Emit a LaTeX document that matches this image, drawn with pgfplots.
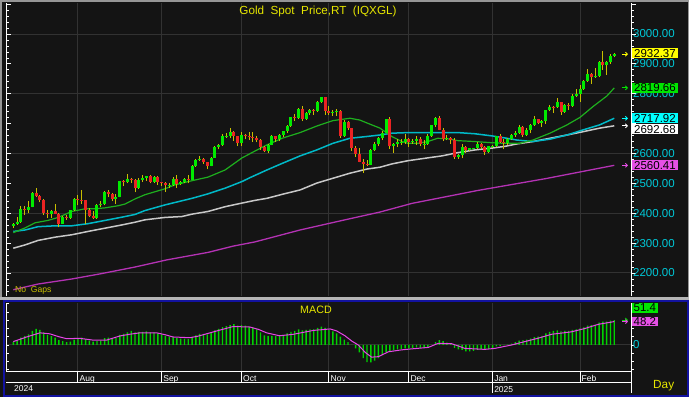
\documentclass[border=0pt]{standalone}
\usepackage{pgfplots}
\pgfplotsset{compat=1.18}
\usepackage{pgfplotstable}
\usepackage{fontspec}
\setmainfont{Liberation Sans}
\usetikzlibrary{arrows.meta}
\definecolor{bg}{RGB}{20,20,20}
\definecolor{gridc}{RGB}{50,50,50}
\definecolor{ttl}{RGB}{230,230,0}
\definecolor{boxy}{RGB}{255,255,0}
\definecolor{tickc}{RGB}{0,200,215}
\definecolor{upc}{RGB}{0,235,0}
\definecolor{dnc}{RGB}{235,35,35}
\definecolor{wickc}{RGB}{200,190,0}
\definecolor{maA}{RGB}{30,175,30}
\definecolor{maB}{RGB}{0,185,200}
\definecolor{maC}{RGB}{200,200,200}
\definecolor{maD}{RGB}{180,50,180}
\definecolor{boxg}{RGB}{0,230,0}
\definecolor{boxc}{RGB}{0,255,255}
\definecolor{boxm}{RGB}{230,80,230}
\definecolor{macdg}{RGB}{0,210,0}
\definecolor{sigc}{RGB}{230,70,230}
\definecolor{frameg}{RGB}{150,150,150}
\definecolor{frameb}{RGB}{18,18,160}
\newcommand\ftitle{\fontsize{11.7}{13}\selectfont}
\newcommand\flab{\fontsize{11.5}{12}\selectfont}
\newcommand\fdate{\fontsize{8.5}{9}\selectfont}
\newcommand\fsmall{\fontsize{8.6}{9}\selectfont}

\pgfplotstableread{
i O H L C
0 2358 2366 2352 2364
1 2364 2386 2360 2372
2 2372 2424 2369 2415
3 2415 2424 2394 2411
4 2411 2440 2401 2422
5 2422 2470 2420 2468
6 2468 2483 2455 2459
7 2459 2462 2436 2445
8 2445 2449 2395 2400
9 2400 2412 2384 2396
10 2396 2412 2385 2409
11 2409 2431 2396 2398
12 2398 2402 2353 2365
13 2365 2390 2364 2387
14 2387 2393 2378 2385
15 2385 2412 2380 2410
16 2410 2451 2406 2447
17 2447 2462 2426 2445
18 2445 2477 2432 2443
19 2443 2446 2364 2410
20 2410 2419 2386 2390
21 2390 2407 2381 2383
22 2383 2431 2380 2427
23 2427 2440 2420 2431
24 2431 2475 2426 2472
25 2472 2477 2456 2465
26 2465 2468 2441 2447
27 2447 2463 2431 2456
28 2456 2509 2453 2507
29 2507 2510 2490 2504
30 2504 2531 2500 2514
31 2514 2518 2502 2512
32 2512 2514 2470 2484
33 2484 2517 2482 2512
34 2512 2528 2505 2518
35 2518 2526 2509 2524
36 2524 2528 2500 2504
37 2504 2525 2500 2520
38 2520 2525 2495 2503
39 2503 2506 2490 2500
40 2500 2504 2472 2493
41 2493 2500 2485 2495
42 2495 2523 2490 2516
43 2516 2529 2485 2497
44 2497 2507 2493 2506
45 2506 2518 2500 2516
46 2516 2528 2500 2512
47 2512 2560 2510 2558
48 2558 2580 2555 2578
49 2578 2590 2575 2581
50 2581 2584 2565 2570
51 2570 2572 2547 2559
52 2559 2589 2557 2586
53 2586 2625 2585 2622
54 2622 2632 2614 2628
55 2628 2664 2625 2657
56 2657 2670 2652 2658
57 2658 2685 2651 2672
58 2672 2674 2643 2658
59 2658 2660 2625 2634
60 2634 2673 2624 2663
61 2663 2666 2647 2658
62 2658 2671 2645 2656
63 2656 2673 2639 2653
64 2653 2660 2637 2644
65 2644 2648 2613 2622
66 2622 2625 2604 2608
67 2608 2633 2603 2630
68 2630 2661 2627 2657
69 2657 2660 2640 2649
70 2649 2666 2643 2662
71 2662 2676 2656 2674
72 2674 2697 2670 2693
73 2693 2722 2690 2721
74 2721 2732 2710 2720
75 2720 2752 2715 2748
76 2748 2758 2708 2715
77 2715 2738 2713 2736
78 2736 2750 2729 2747
79 2747 2750 2730 2743
80 2743 2775 2738 2774
81 2774 2790 2769 2788
82 2788 2790 2730 2743
83 2743 2758 2730 2736
84 2736 2745 2727 2738
85 2738 2750 2725 2743
86 2743 2746 2652 2659
87 2659 2711 2656 2706
88 2706 2709 2680 2685
89 2685 2687 2610 2618
90 2618 2626 2589 2598
91 2598 2617 2570 2572
92 2572 2580 2536 2565
93 2565 2578 2557 2563
94 2563 2615 2560 2611
95 2611 2639 2608 2631
96 2631 2656 2625 2651
97 2651 2674 2645 2670
98 2670 2716 2668 2715
99 2715 2721 2615 2625
100 2625 2635 2602 2633
101 2633 2647 2622 2638
102 2638 2648 2630 2639
103 2639 2666 2632 2650
104 2650 2652 2623 2639
105 2639 2650 2633 2643
106 2643 2658 2630 2650
107 2650 2655 2624 2632
108 2632 2644 2614 2633
109 2633 2665 2628 2660
110 2660 2697 2655 2694
111 2694 2721 2690 2718
112 2718 2726 2677 2680
113 2680 2685 2643 2648
114 2648 2661 2644 2652
115 2652 2655 2633 2646
116 2646 2651 2583 2587
117 2587 2598 2583 2594
118 2594 2632 2584 2622
119 2622 2625 2602 2612
120 2612 2620 2608 2617
121 2617 2620 2614 2618
122 2618 2638 2615 2633
123 2633 2636 2614 2621
124 2621 2624 2596 2606
125 2606 2626 2603 2624
126 2624 2627 2620 2625
127 2625 2660 2621 2658
128 2658 2665 2635 2640
129 2640 2648 2614 2636
130 2636 2653 2628 2648
131 2648 2664 2644 2662
132 2662 2674 2656 2669
133 2669 2697 2666 2690
134 2690 2693 2656 2663
135 2663 2684 2660 2677
136 2677 2699 2667 2696
137 2696 2724 2693 2714
138 2714 2716 2699 2703
139 2703 2713 2690 2708
140 2708 2746 2700 2744
141 2744 2763 2741 2755
142 2755 2758 2735 2754
143 2754 2786 2752 2771
144 2771 2773 2730 2740
145 2740 2766 2737 2763
146 2763 2769 2745 2760
147 2760 2800 2755 2794
148 2794 2817 2790 2798
149 2798 2830 2772 2815
150 2815 2845 2812 2842
151 2842 2882 2840 2867
152 2867 2870 2834 2856
153 2856 2886 2853 2861
154 2861 2911 2855 2907
155 2907 2942 2880 2897
156 2897 2910 2864 2905
157 2905 2932 2900 2928
158 2928 2936 2922 2932.37
}\candles

\pgfplotstableread{
i m
0 6
1 9
2 15
3 18
4 22
5 29
6 33
7 31
8 26
9 21
10 18
11 15
12 10
13 8
14 6
15 7
16 11
17 14
18 15
19 12
20 9
21 7
22 8
23 9
24 14
25 15
26 13
27 14
28 21
29 23
30 26
31 29
32 26
33 27
34 27
35 28
36 26
37 26
38 24
39 22
40 19
41 17
42 16
43 14
44 13
45 13
46 12
47 16
48 20
49 23
50 23
51 22
52 25
53 30
54 33
55 37
56 39
57 41
58 43
59 40
60 41
61 40
62 38
63 35
64 32
65 26
66 20
67 18
68 19
69 18
70 20
71 21
72 24
73 27
74 29
75 32
76 30
77 31
78 32
79 32
80 35
81 38
82 35
83 31
84 28
85 24
86 17
87 11
88 6
89 0
90 -7
91 -15
92 -27
93 -35
94 -36
95 -32
96 -27
97 -21
98 -15
99 -14
100 -11
101 -9
102 -8
103 -7
104 -7
105 -6
106 -5
107 -6
108 -6
109 -4
110 0
111 6
112 10
113 8
114 5
115 2
116 -6
117 -9
118 -10
119 -13
120 -13
121 -12
122 -10
123 -9
124 -9
125 -8
126 -7
127 -3
128 -2
129 -1
130 1
131 3
132 6
133 9
134 10
135 11
136 13
137 16
138 17
139 19
140 24
141 27
142 29
143 30
144 28
145 29
146 29
147 31
148 32
149 34
150 36
151 40
152 41
153 42
154 46
155 48
156 48
157 50
158 51.4
}\macd

\begin{document}
\begin{tikzpicture}[x=1pt,y=1pt]
\useasboundingbox (0,0) rectangle (689,397);
\fill[bg] (0,0) rectangle (689,397);
% frames
\fill[frameg] (0,395) rectangle (689,397);
\fill[frameg] (0,98) rectangle (1.5,397);
\fill[frameg] (687.5,98) rectangle (689,397);
\fill[frameg!70!white] (0,97.5) rectangle (689,100.5);
\draw[frameb, line width=2pt] (3.5,1.5) rectangle (687.5,96);

% ================= MAIN PRICE PANEL =================
\begin{axis}[at={(6pt,101pt)}, anchor=south west, scale only axis,
  width=625pt, height=293pt,
  xmin=-1.92, xmax=162.4, ymin=2123, ymax=3103.8,
  hide axis, clip=false]
  % grid
  \pgfplotsinvokeforeach{2200,2400,2600,2800,3000}{
    \draw[gridc, line width=1pt] (axis cs:-1.92,#1) -- (axis cs:162.4,#1);}
  \pgfplotsinvokeforeach{17,39,60,83,104,126,149}{
    \draw[gridc, line width=1pt] (axis cs:#1,2123) -- (axis cs:#1,3103.8);}
  % moving averages
  \addplot[maD, line width=1.3pt] coordinates {(0,2144) (6.5,2163) (15.4,2180) (22.8,2197) (32,2220) (40.4,2244) (51.2,2269) (57.8,2290) (63.5,2304) (75.4,2344) (87.2,2378) (96.4,2404) (104.8,2433) (122,2476) (140,2516) (158,2560.41)};
  \addplot[maC, line width=1.5pt] coordinates {(0,2283) (3.1,2294) (6.5,2309) (11,2320) (15.4,2328) (19.6,2339) (24.1,2350) (28.6,2361) (32,2370) (34.6,2378) (39.9,2386) (44.3,2389) (47,2397) (51.2,2406) (55.7,2422) (60.1,2434) (63.5,2443) (66.7,2450) (70.9,2464) (75.4,2478) (79.8,2501) (84,2517) (88.5,2534) (93,2548) (96.4,2554) (99.5,2565) (103.8,2576) (108.2,2584) (112.7,2592) (116.9,2603) (121.4,2612) (125.8,2618) (129.3,2624) (132.4,2632) (136.6,2640) (141.1,2651) (145.6,2662) (149.8,2673) (154.2,2685) (158,2692.68)};
  \addplot[maB, line width=1.5pt] coordinates {(0,2339) (3.1,2344) (6.5,2355) (11,2358) (15.4,2358) (19.6,2365) (24.1,2376) (28.6,2387) (32,2396) (34.6,2409) (39.9,2428) (47,2450) (51.2,2465) (55.7,2484) (60.1,2506) (62.2,2519) (66.7,2545) (70.9,2568) (75.4,2592) (79.8,2612) (84,2634) (88.5,2651) (93,2657) (96.4,2662) (99.5,2668) (103.8,2670) (108.2,2670) (112.7,2670) (116.9,2670) (121.4,2666) (125.8,2659) (129.3,2652) (132.4,2645) (136.6,2640) (141.1,2648) (145.6,2662) (149.8,2679) (154.2,2696) (158,2717.92)};
  \addplot[maA, line width=1.2pt] coordinates {(0,2335) (3.1,2351) (5.7,2368) (9.1,2376) (11.8,2386) (15.4,2406) (18.9,2415) (21.5,2415) (24.1,2418) (27.5,2425) (29.4,2431) (32,2448) (34.6,2462) (39.9,2482) (42.5,2495) (47,2509) (51.2,2521) (55.7,2545) (60.1,2585) (63.5,2608) (66.7,2629) (70.9,2652) (75.4,2670) (79.8,2692) (84,2710) (88.5,2718) (91.1,2712) (93.8,2698) (96.4,2685) (99.5,2657) (102.2,2640) (103.8,2634) (106.4,2634) (109,2640) (111.6,2651) (114.3,2649) (116.9,2643) (121.4,2640) (125.8,2636) (129.3,2634) (133.2,2634) (136.6,2645) (141.1,2668) (145.6,2696) (149,2721) (152.4,2757) (156.1,2793) (158,2819.66)};
  % candles: wicks
  \addplot[draw=none, mark=none, forget plot,
    error bars/.cd, y dir=plus, y explicit, error mark=none,
    error bar style={line width=1pt, wickc}]
    table[x=i, y=L, y error plus expr=\thisrow{H}-\thisrow{L}] {\candles};
  % up bodies
  \addplot[draw=none, mark=none, forget plot,
    restrict expr to domain={\thisrow{C}-\thisrow{O}}{0.0001:1000},
    error bars/.cd, y dir=plus, y explicit, error mark=none,
    error bar style={line width=3pt, upc}]
    table[x=i, y=O, y error plus expr=\thisrow{C}-\thisrow{O}] {\candles};
  % down bodies
  \addplot[draw=none, mark=none, forget plot,
    restrict expr to domain={\thisrow{O}-\thisrow{C}}{0.0001:1000},
    error bars/.cd, y dir=plus, y explicit, error mark=none,
    error bar style={line width=3pt, dnc}]
    table[x=i, y=C, y error plus expr=\thisrow{O}-\thisrow{C}] {\candles};
  % axis lines and ticks
  \draw[white, line width=1pt] (axis cs:-1.92,2123) -- (axis cs:-1.92,3103.8);
  \draw[white, line width=1pt] (axis cs:162.4,2123) -- (axis cs:162.4,3103.8);
  \pgfplotsinvokeforeach{2140,2160,2180,2220,2240,2260,2280,2320,2340,2360,2380,2420,2440,2460,2480,2520,2540,2560,2580,2620,2640,2660,2680,2720,2740,2760,2780,2820,2840,2860,2880,2920,2940,2960,2980,3020,3040,3060,3080}{
    \draw[white, line width=0.8pt] (axis cs:-1.92,#1) -- ([xshift=3pt]axis cs:-1.92,#1);
    \draw[white, line width=0.8pt] (axis cs:162.4,#1) -- ([xshift=3pt]axis cs:162.4,#1);}
  \pgfplotsinvokeforeach{2200,2300,2400,2500,2600,2700,2800,2900,3000,3100}{
    \draw[white, line width=0.8pt] (axis cs:-1.92,#1) -- ([xshift=4.5pt]axis cs:-1.92,#1);
    \draw[white, line width=0.8pt] (axis cs:162.4,#1) -- ([xshift=4.5pt]axis cs:162.4,#1);}
  \pgfplotsinvokeforeach{2200,2300,2400,2500,2600,2800,2900,3000}{
    \node[anchor=west, text=tickc, font=\flab, inner sep=0pt] at ([xshift=2pt]axis cs:162.4,#1) {#1.00};}
  % last value boxes
  \node[fill=boxy, text=black, anchor=west, inner xsep=2pt, inner ysep=0.9pt, font=\flab] at ([xshift=1pt]axis cs:162.4,2935) {2932.37};
  \node[fill=boxg, text=black, anchor=west, inner xsep=2pt, inner ysep=0.9pt, font=\flab] at ([xshift=1pt]axis cs:162.4,2819.66) {2819.66};
  \node[fill=boxc, text=black, anchor=west, inner xsep=2pt, inner ysep=0.9pt, font=\flab] at ([xshift=1pt]axis cs:162.4,2717.92) {2717.92};
  \node[fill=white, text=black, anchor=west, inner xsep=2pt, inner ysep=0.9pt, font=\flab] at ([xshift=1pt]axis cs:162.4,2681) {2692.68};
  \node[fill=boxm, text=black, anchor=west, inner xsep=2pt, inner ysep=0.9pt, font=\flab] at ([xshift=1pt]axis cs:162.4,2560.41) {2560.41};
  % arrows
  \draw[boxy, line width=0.9pt, -{Straight Barb[length=2pt,width=4pt]}] ([xshift=-9pt]axis cs:162.4,2932.37) -- ([xshift=-3pt]axis cs:162.4,2932.37);
  \draw[boxg, line width=0.9pt, -{Straight Barb[length=2pt,width=4pt]}] ([xshift=-9pt]axis cs:162.4,2819.66) -- ([xshift=-3pt]axis cs:162.4,2819.66);
  \draw[boxc, line width=0.9pt, -{Straight Barb[length=2pt,width=4pt]}] ([xshift=-9pt]axis cs:162.4,2717.92) -- ([xshift=-3pt]axis cs:162.4,2717.92);
  \draw[white, line width=0.9pt, -{Straight Barb[length=2pt,width=4pt]}] ([xshift=-9pt]axis cs:162.4,2692.68) -- ([xshift=-3pt]axis cs:162.4,2692.68);
  \draw[boxm, line width=0.9pt, -{Straight Barb[length=2pt,width=4pt]}] ([xshift=-9pt]axis cs:162.4,2560.41) -- ([xshift=-3pt]axis cs:162.4,2560.41);
\end{axis}

% ================= MACD PANEL =================
\begin{axis}[at={(6pt,26pt)}, anchor=south west, scale only axis,
  width=625pt, height=68pt,
  xmin=-1.92, xmax=162.4, ymin=-53.5, ymax=86.4,
  hide axis, clip=false]
  \pgfplotsinvokeforeach{17,39,60,83,104,126,149}{
    \draw[gridc, line width=1pt] (axis cs:#1,-53.5) -- (axis cs:#1,86.4);}
  \draw[gridc, line width=1pt] (axis cs:-1.92,0) -- (axis cs:162.4,0);
  \addplot[ybar, bar width=1.4pt, bar shift=0pt, fill=macdg, draw=none] table[x=i, y=m] {\macd};
  \addplot[sigc, line width=1pt] coordinates {(0,7) (3.5,16.5) (7,25) (9.6,23) (12,17) (14,13) (17.5,13.7) (21,10) (24.5,10) (28,18.5) (30.5,22) (33.3,25) (37.7,25) (40,21) (42,16.5) (46.4,15) (48.5,18) (50.8,23) (54,30) (57.8,38) (62.2,37) (64.5,32) (66.6,25) (70,19) (73.6,22) (78.9,30) (83.3,33) (85,29) (87.2,19) (89,8) (90.7,0) (92.5,-15) (94.2,-25) (96,-24) (98.6,-14) (102.1,-10) (104.7,-8) (109.1,-5) (111.7,3.4) (115.2,2.7) (117,-2) (118.7,-7) (124,-9) (126.6,-7) (131,0) (134.5,7) (138,14) (141.5,22) (146.7,27) (150.3,34) (153.8,42.5) (158,48.2)};
  % axes
  \draw[white, line width=1pt] (axis cs:-1.92,-53.5) -- (axis cs:-1.92,86.4);
  \draw[white, line width=1pt] (axis cs:162.4,86.4) -- ([yshift=-22pt]axis cs:162.4,-53.5);
  \pgfplotsinvokeforeach{-51,-34,-17,0,17,34,51,68,85}{
    \draw[white, line width=0.8pt] (axis cs:-1.92,#1) -- ([xshift=3pt]axis cs:-1.92,#1);
    \draw[white, line width=0.8pt] (axis cs:162.4,#1) -- ([xshift=3pt]axis cs:162.4,#1);}
  % date axis
  \draw[white, line width=1pt] (axis cs:-1.92,-53.5) -- (axis cs:162.4,-53.5);
  \draw[white, line width=1pt] ([yshift=-11.3pt]axis cs:-1.92,-53.5) -- ([yshift=-11.3pt]axis cs:162.4,-53.5);
  \pgfplotsinvokeforeach{17,39,60,83,104,126,149}{
    \draw[white, line width=1pt] (axis cs:#1,-53.5) -- ([yshift=-11.3pt]axis cs:#1,-53.5);}
  \draw[white, line width=1pt] ([yshift=-11.3pt]axis cs:126,-53.5) -- ([yshift=-22.3pt]axis cs:126,-53.5);
  \node[anchor=base west, white, font=\fdate, inner sep=0pt] at ([xshift=1.5pt,yshift=-10.3pt]axis cs:17,-53.5) {Aug};
  \node[anchor=base west, white, font=\fdate, inner sep=0pt] at ([xshift=1.5pt,yshift=-10.3pt]axis cs:39,-53.5) {Sep};
  \node[anchor=base west, white, font=\fdate, inner sep=0pt] at ([xshift=1.5pt,yshift=-10.3pt]axis cs:60,-53.5) {Oct};
  \node[anchor=base west, white, font=\fdate, inner sep=0pt] at ([xshift=1.5pt,yshift=-10.3pt]axis cs:83,-53.5) {Nov};
  \node[anchor=base west, white, font=\fdate, inner sep=0pt] at ([xshift=1.5pt,yshift=-10.3pt]axis cs:104,-53.5) {Dec};
  \node[anchor=base west, white, font=\fdate, inner sep=0pt] at ([xshift=1.5pt,yshift=-10.3pt]axis cs:126,-53.5) {Jan};
  \node[anchor=base west, white, font=\fdate, inner sep=0pt] at ([xshift=1.5pt,yshift=-10.3pt]axis cs:149,-53.5) {Feb};
  \node[anchor=base west, white, font=\fdate, inner sep=0pt] at ([xshift=1.5pt,yshift=-21pt]axis cs:126,-53.5) {2025};
  % value boxes
  \node[fill=boxg, text=black, anchor=west, inner xsep=1.5pt, inner ysep=0.8pt, font=\flab] at ([xshift=1pt]axis cs:162.4,76) {51.4};
  \node[fill=boxm, text=black, anchor=west, inner xsep=1.5pt, inner ysep=0.8pt, font=\flab] at ([xshift=1pt]axis cs:162.4,48.2) {48.2};
  \node[anchor=west, text=tickc, font=\flab, inner sep=0pt] at ([xshift=2pt]axis cs:162.4,0) {0};
  \draw[boxg, line width=0.9pt, -{Straight Barb[length=2pt,width=4pt]}] ([xshift=-9pt]axis cs:162.4,51.4) -- ([xshift=-3pt]axis cs:162.4,51.4);
  \draw[sigc, line width=0.9pt, -{Straight Barb[length=2pt,width=4pt]}] ([xshift=-9pt]axis cs:162.4,48.2) -- ([xshift=-3pt]axis cs:162.4,48.2);
\end{axis}

% texts
\node[text=ttl, font=\ftitle, inner sep=0pt] at (318,386) {Gold\ \ Spot\ \ Price,RT\ \ (IQXGL)};
\node[text=wickc, font=\fsmall, anchor=base west, inner sep=0pt] at (15,104.5) {No\ \ Gaps};
\node[text=ttl, font=\fontsize{10.7}{11}\selectfont, inner sep=0pt] at (316,87) {MACD};
\node[text=ttl, font=\fontsize{11.8}{12}\selectfont, anchor=base west, inner sep=0pt] at (653,9) {Day};
\node[white, font=\fdate, anchor=base west, inner sep=0pt] at (14,5.3) {2024};
\end{tikzpicture}
\end{document}
